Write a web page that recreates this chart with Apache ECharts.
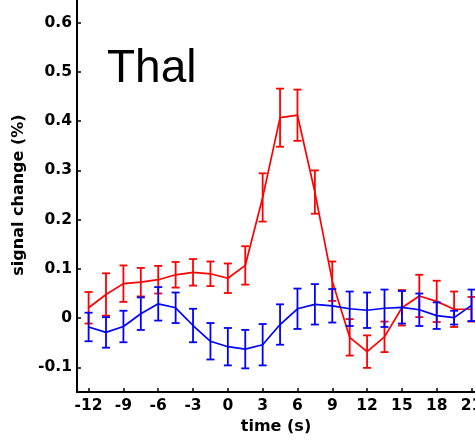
<!DOCTYPE html>
<html>
<head>
<meta charset="utf-8">
<script src="https://cdn.jsdelivr.net/npm/echarts@6/dist/echarts.min.js"></script>
<style>html,body{margin:0;padding:0;background:#fff}#c{width:475px;height:440px}</style>
</head>
<body>
<div id="c"></div>
<script>
const times = [-12,-10.5,-9,-7.5,-6,-4.5,-3,-1.5,0,1.5,3,4.5,6,7.5,9,10.5,12,13.5,15,16.5,18,19.5,21];
const redMean = [0.021,0.048,0.070,0.073,0.078,0.088,0.093,0.090,0.081,0.107,0.245,0.407,0.412,0.256,0.075,-0.039,-0.068,-0.038,0.021,0.045,0.034,0.018,0.018];
const redErr  = [0.032,0.043,0.037,0.029,0.028,0.026,0.027,0.025,0.030,0.039,0.049,0.059,0.052,0.044,0.040,0.037,0.033,0.031,0.036,0.043,0.042,0.036,0.025];
const blueMean = [-0.018,-0.029,-0.017,0.009,0.029,0.021,-0.015,-0.047,-0.058,-0.063,-0.054,-0.013,0.019,0.028,0.025,0.019,0.016,0.020,0.022,0.017,0.005,0.001,0.026];
const blueErr  = [0.029,0.031,0.032,0.033,0.034,0.031,0.034,0.037,0.038,0.039,0.042,0.041,0.041,0.041,0.034,0.035,0.036,0.038,0.033,0.033,0.027,0.014,0.032];
const xTicks = [-12,-9,-6,-3,0,3,6,9,12,15,18,21];
const yTicks = [-0.1,0,0.1,0.2,0.3,0.4,0.5,0.6];
const titleText = 'Thal';

const chart = echarts.init(document.getElementById('c'));
function errItem(color){
  return function(params, api){
    const x = api.value(0), lo = api.value(1), hi = api.value(2);
    const a = api.coord([x, lo]), b = api.coord([x, hi]);
    const hw = 4;
    const st = {stroke: color, lineWidth: 1.8};
    return {type:'group', children:[
      {type:'line', shape:{x1:a[0], y1:a[1], x2:b[0], y2:b[1]}, style:st},
      {type:'line', shape:{x1:a[0]-hw, y1:a[1], x2:a[0]+hw, y2:a[1]}, style:st},
      {type:'line', shape:{x1:b[0]-hw, y1:b[1], x2:b[0]+hw, y2:b[1]}, style:st}
    ]};
  };
}
const lbl = {color:'#000', fontFamily:'DejaVu Sans', fontWeight:'bold', fontSize:15.5};
const nameStyle = {color:'#000', fontFamily:'DejaVu Sans', fontWeight:'bold', fontSize:16};
const option = {
  animation:false,
  grid:{left:77, right:0, top:-2, bottom:48, outerBoundsMode:'none', containLabel:false},
  xAxis:{type:'value', min:-13, max:21.3,
    axisLine:{show:true, onZero:false, lineStyle:{color:'#000', width:2}},
    axisTick:{show:true, inside:true, length:4, customValues:xTicks, lineStyle:{color:'#000', width:1.5}},
    axisLabel:Object.assign({customValues:xTicks, margin:6, formatter:v=>String(v)}, lbl),
    splitLine:{show:false},
    name:'time (s)', nameLocation:'middle', nameGap:24, nameTextStyle:nameStyle},
  yAxis:{type:'value', min:-0.15, max:0.65,
    axisLine:{show:true, onZero:false, lineStyle:{color:'#000', width:2}},
    axisTick:{show:true, inside:true, length:4, customValues:yTicks, lineStyle:{color:'#000', width:1.5}},
    axisLabel:Object.assign({customValues:yTicks, margin:5, formatter:v=>String(+(+v).toFixed(1))}, lbl),
    splitLine:{show:false},
    name:'signal change (%)', nameLocation:'middle', nameGap:44, nameRotate:90, nameTextStyle:nameStyle},
  graphic:[{type:'text', left:107, top:46, style:{text:titleText, font:'46px "Liberation Sans"', fill:'#000'}}],
  series:[
    {type:'line', data:times.map((t,i)=>[t, redMean[i]]), showSymbol:false, symbol:'none', lineStyle:{color:'#ff0000', width:1.7}, z:2},
    {type:'custom', renderItem:errItem('#ff0000'), data:times.map((t,i)=>[t, redMean[i]-redErr[i], redMean[i]+redErr[i]]), encode:{x:0, y:[1,2]}, z:2},
    {type:'line', data:times.map((t,i)=>[t, blueMean[i]]), showSymbol:false, symbol:'none', lineStyle:{color:'#0000ff', width:1.7}, z:3},
    {type:'custom', renderItem:errItem('#0000ff'), data:times.map((t,i)=>[t, blueMean[i]-blueErr[i], blueMean[i]+blueErr[i]]), encode:{x:0, y:[1,2]}, z:3}
  ]
};
chart.setOption(option);
</script>
</body>
</html>
